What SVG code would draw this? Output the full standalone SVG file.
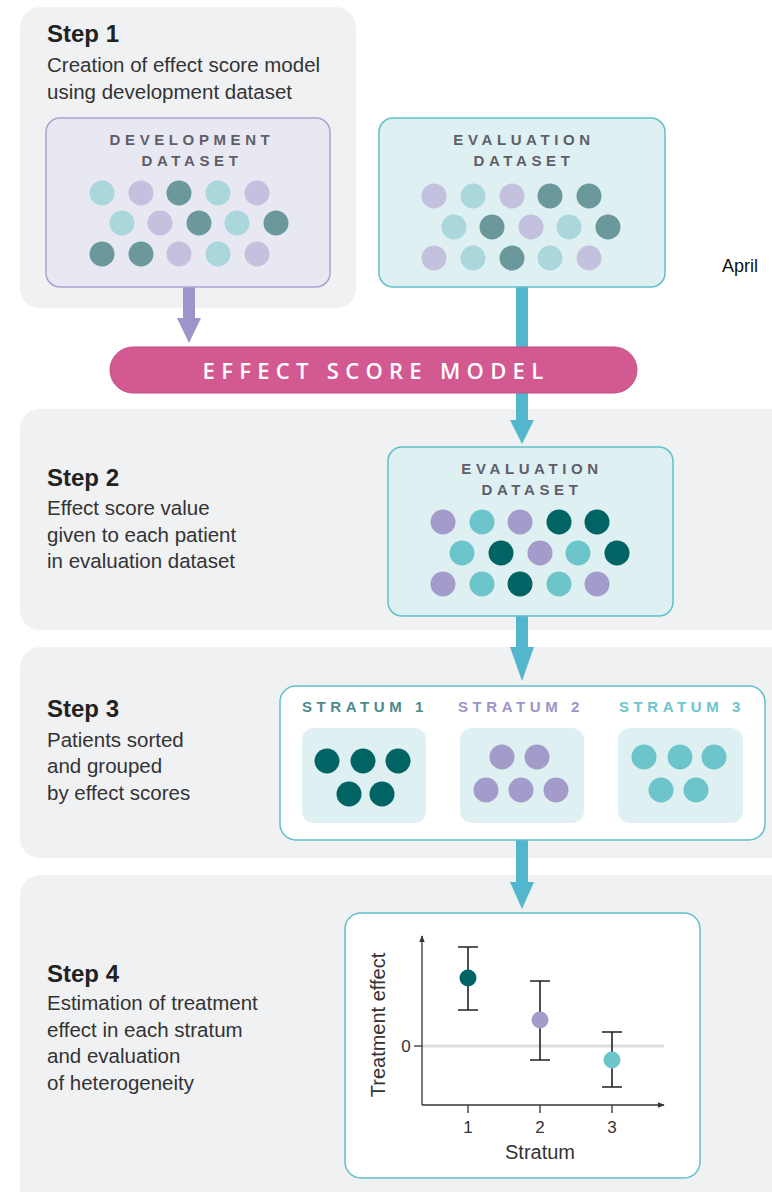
<svg xmlns="http://www.w3.org/2000/svg" width="772" height="1192" viewBox="0 0 772 1192">
  <defs>
    <style>
      .panel { fill: #f0f1f3; }
      .step { font-family: "Liberation Sans", Arial, sans-serif; font-weight: bold; font-size: 24px; fill: #222; }
      .desc { font-family: "Liberation Sans", Arial, sans-serif; font-size: 20.5px; fill: #333; }
      .dslabel { font-family: "Liberation Sans", Arial, sans-serif; font-weight: bold; font-size: 15px; letter-spacing: 4.6px; fill: #5e5e68; text-anchor: middle; }
      .strlabel { font-family: "Liberation Sans", Arial, sans-serif; font-weight: bold; font-size: 15px; letter-spacing: 4.6px; text-anchor: middle; }
      .devbox { fill: #e8e8f3; stroke: #aaa4d2; stroke-width: 1.5; }
      .evalbox { fill: #dff0f2; stroke: #62bfcc; stroke-width: 1.5; }
      .whitebox { fill: #ffffff; stroke: #62bfcc; stroke-width: 1.5; }
      .inner { fill: #dff0f2; }
      .pale-lt { fill: #a9d7dc; }
      .pale-lav { fill: #c4c1de; }
      .pale-dk { fill: #6b999b; }
      .lav { fill: #a39ccb; }
      .tl { fill: #6cc5cb; }
      .dk { fill: #006464; }
      .axis { stroke: #333; stroke-width: 1.3; fill: none; }
      .err { stroke: #222; stroke-width: 1.6; fill: none; }
      .tick { font-family: "Liberation Sans", Arial, sans-serif; font-size: 17px; fill: #333; text-anchor: middle; }
      .axtitle { font-family: "Liberation Sans", Arial, sans-serif; font-size: 20px; fill: #333; text-anchor: middle; }
    </style>
    <marker id="axhead" viewBox="0 0 10 10" refX="9" refY="5" markerWidth="7" markerHeight="7" orient="auto" markerUnits="userSpaceOnUse">
      <path d="M0,1 L10,5 L0,9 Z" fill="#333"/>
    </marker>
  </defs>

  <rect width="772" height="1192" fill="#ffffff"/>

  <!-- background panels -->
  <g id="panels">
    <rect class="panel" x="20" y="7" width="336" height="301" rx="20"/>
    <rect class="panel" x="20" y="409" width="772" height="221" rx="20"/>
    <rect class="panel" x="20" y="647" width="772" height="211" rx="20"/>
    <rect class="panel" x="20" y="875" width="772" height="340" rx="20"/>
  </g>

  <!-- connectors -->
  <g id="connectors">
    <rect x="183" y="287" width="12" height="33" fill="#9d95c9"/>
    <path d="M177,318 L201,318 L189,343 Z" fill="#9d95c9"/>
    <rect x="516" y="287" width="12" height="62" fill="#52b6cc"/>
    <rect x="516" y="392" width="12" height="30" fill="#52b6cc"/>
    <path d="M510,420 L534,420 L522,444 Z" fill="#52b6cc"/>
    <rect x="516" y="616" width="12" height="33" fill="#52b6cc"/>
    <path d="M510,647 L534,647 L522,681 Z" fill="#52b6cc"/>
    <rect x="516" y="840" width="12" height="44" fill="#52b6cc"/>
    <path d="M510,882 L534,882 L522,909 Z" fill="#52b6cc"/>
  </g>

  <!-- Step 1 -->
  <g id="step1-text">
    <text class="step" x="47" y="42">Step 1</text>
    <text class="desc" x="47" y="72">Creation of effect score model</text>
    <text class="desc" x="47" y="99">using development dataset</text>
  </g>

  <g id="development-dataset">
    <rect class="devbox" x="46" y="118" width="284" height="169" rx="14"/>
    <text class="dslabel" x="192" y="145">DEVELOPMENT</text>
    <text class="dslabel" x="192" y="166">DATASET</text>
    <circle class="pale-lt" cx="102" cy="193" r="12.5"/>
    <circle class="pale-lav" cx="141" cy="193" r="12.5"/>
    <circle class="pale-dk" cx="179" cy="193" r="12.5"/>
    <circle class="pale-lt" cx="218" cy="193" r="12.5"/>
    <circle class="pale-lav" cx="257" cy="193" r="12.5"/>
    <circle class="pale-lt" cx="122" cy="223" r="12.5"/>
    <circle class="pale-lav" cx="160" cy="223" r="12.5"/>
    <circle class="pale-dk" cx="199" cy="223" r="12.5"/>
    <circle class="pale-lt" cx="237" cy="223" r="12.5"/>
    <circle class="pale-dk" cx="276" cy="223" r="12.5"/>
    <circle class="pale-dk" cx="102" cy="254" r="12.5"/>
    <circle class="pale-dk" cx="141" cy="254" r="12.5"/>
    <circle class="pale-lav" cx="179" cy="254" r="12.5"/>
    <circle class="pale-lt" cx="218" cy="254" r="12.5"/>
    <circle class="pale-lav" cx="257" cy="254" r="12.5"/>
  </g>

  <g id="evaluation-dataset">
    <rect class="evalbox" x="379" y="118" width="286" height="169" rx="14"/>
    <text class="dslabel" x="524" y="145">EVALUATION</text>
    <text class="dslabel" x="524" y="166">DATASET</text>
    <circle class="pale-lav" cx="434" cy="196" r="12.5"/>
    <circle class="pale-lt" cx="473" cy="196" r="12.5"/>
    <circle class="pale-lav" cx="512" cy="196" r="12.5"/>
    <circle class="pale-dk" cx="550" cy="196" r="12.5"/>
    <circle class="pale-dk" cx="589" cy="196" r="12.5"/>
    <circle class="pale-lt" cx="454" cy="227" r="12.5"/>
    <circle class="pale-dk" cx="492" cy="227" r="12.5"/>
    <circle class="pale-lav" cx="531" cy="227" r="12.5"/>
    <circle class="pale-lt" cx="569" cy="227" r="12.5"/>
    <circle class="pale-dk" cx="608" cy="227" r="12.5"/>
    <circle class="pale-lav" cx="434" cy="258" r="12.5"/>
    <circle class="pale-lt" cx="473" cy="258" r="12.5"/>
    <circle class="pale-dk" cx="512" cy="258" r="12.5"/>
    <circle class="pale-lt" cx="550" cy="258" r="12.5"/>
    <circle class="pale-lav" cx="589" cy="258" r="12.5"/>
  </g>

  <text x="722" y="272" font-family="'Liberation Sans', Arial, sans-serif" font-size="18" fill="#111">April</text>

  <!-- Effect score model -->
  <g id="effect-score-model">
    <rect x="110" y="347" width="527" height="46" rx="23" fill="#d35a91" stroke="#c24f84" stroke-width="1"/>
    <text x="376" y="379" font-family="'Open Sans', 'Liberation Sans', sans-serif" font-weight="600" font-size="22" letter-spacing="6.3" fill="#ffffff" text-anchor="middle">EFFECT SCORE MODEL</text>
  </g>

  <!-- Step 2 -->
  <g id="step2-text">
    <text class="step" x="47" y="486">Step 2</text>
    <text class="desc" x="47" y="515">Effect score value</text>
    <text class="desc" x="47" y="542">given to each patient</text>
    <text class="desc" x="47" y="568">in evaluation dataset</text>
  </g>

  <g id="scored-evaluation-dataset">
    <rect class="evalbox" x="388" y="447" width="285" height="169" rx="14"/>
    <text class="dslabel" x="532" y="474">EVALUATION</text>
    <text class="dslabel" x="532" y="495">DATASET</text>
    <circle class="lav" cx="443" cy="522" r="12.5"/>
    <circle class="tl" cx="482" cy="522" r="12.5"/>
    <circle class="lav" cx="520" cy="522" r="12.5"/>
    <circle class="dk" cx="559" cy="522" r="12.5"/>
    <circle class="dk" cx="597" cy="522" r="12.5"/>
    <circle class="tl" cx="462" cy="553" r="12.5"/>
    <circle class="dk" cx="501" cy="553" r="12.5"/>
    <circle class="lav" cx="540" cy="553" r="12.5"/>
    <circle class="tl" cx="578" cy="553" r="12.5"/>
    <circle class="dk" cx="617" cy="553" r="12.5"/>
    <circle class="lav" cx="443" cy="584" r="12.5"/>
    <circle class="tl" cx="482" cy="584" r="12.5"/>
    <circle class="dk" cx="520" cy="584" r="12.5"/>
    <circle class="tl" cx="559" cy="584" r="12.5"/>
    <circle class="lav" cx="597" cy="584" r="12.5"/>
  </g>

  <!-- Step 3 -->
  <g id="step3-text">
    <text class="step" x="47" y="717">Step 3</text>
    <text class="desc" x="47" y="747">Patients sorted</text>
    <text class="desc" x="47" y="773">and grouped</text>
    <text class="desc" x="47" y="800">by effect scores</text>
  </g>

  <g id="strata">
    <rect class="whitebox" x="280" y="686" width="485" height="154" rx="16"/>
    <text class="strlabel" x="365" y="712" fill="#4d8a8d">STRATUM 1</text>
    <text class="strlabel" x="521" y="712" fill="#9d95c9">STRATUM 2</text>
    <text class="strlabel" x="682" y="712" fill="#6cc5cb">STRATUM 3</text>
    <rect class="inner" x="302" y="728" width="124" height="95" rx="12"/>
    <rect class="inner" x="460" y="728" width="124" height="95" rx="12"/>
    <rect class="inner" x="618" y="728" width="125" height="95" rx="12"/>
    <circle class="dk" cx="327" cy="761" r="12.5"/>
    <circle class="dk" cx="363" cy="761" r="12.5"/>
    <circle class="dk" cx="398" cy="761" r="12.5"/>
    <circle class="dk" cx="349" cy="794" r="12.5"/>
    <circle class="dk" cx="382" cy="794" r="12.5"/>
    <circle class="lav" cx="502" cy="757" r="12.5"/>
    <circle class="lav" cx="537" cy="757" r="12.5"/>
    <circle class="lav" cx="486" cy="790" r="12.5"/>
    <circle class="lav" cx="521" cy="790" r="12.5"/>
    <circle class="lav" cx="556" cy="790" r="12.5"/>
    <circle class="tl" cx="644" cy="757" r="12.5"/>
    <circle class="tl" cx="680" cy="757" r="12.5"/>
    <circle class="tl" cx="714" cy="757" r="12.5"/>
    <circle class="tl" cx="661" cy="790" r="12.5"/>
    <circle class="tl" cx="696" cy="790" r="12.5"/>
  </g>

  <!-- Step 4 -->
  <g id="step4-text">
    <text class="step" x="47" y="982">Step 4</text>
    <text class="desc" x="47" y="1010">Estimation of treatment</text>
    <text class="desc" x="47" y="1037">effect in each stratum</text>
    <text class="desc" x="47" y="1063">and evaluation</text>
    <text class="desc" x="47" y="1090">of heterogeneity</text>
  </g>

  <g id="effect-plot">
    <rect class="whitebox" x="345" y="913" width="355" height="265" rx="16"/>
    <line x1="422" y1="1046" x2="664" y2="1046" stroke="#dedede" stroke-width="3"/>
    <line class="axis" x1="422" y1="1105" x2="422" y2="936" marker-end="url(#axhead)"/>
    <line class="axis" x1="422" y1="1105" x2="664" y2="1105" marker-end="url(#axhead)"/>
    <line class="axis" x1="414" y1="1046" x2="422" y2="1046"/>
    <line class="axis" x1="468" y1="1105" x2="468" y2="1113"/>
    <line class="axis" x1="540" y1="1105" x2="540" y2="1113"/>
    <line class="axis" x1="612" y1="1105" x2="612" y2="1113"/>
    <text class="tick" x="406" y="1052">0</text>
    <text class="tick" x="468" y="1133">1</text>
    <text class="tick" x="540" y="1133">2</text>
    <text class="tick" x="612" y="1133">3</text>
    <text class="axtitle" x="540" y="1159">Stratum</text>
    <text class="axtitle" transform="translate(385,1025) rotate(-90)">Treatment effect</text>
    <path class="err" d="M458,947 H478 M468,947 V1010 M458,1010 H478"/>
    <path class="err" d="M530,981 H550 M540,981 V1060 M530,1060 H550"/>
    <path class="err" d="M602,1032 H622 M612,1032 V1087 M602,1087 H622"/>
    <circle class="dk" cx="468" cy="978" r="8.5"/>
    <circle class="lav" cx="540" cy="1020" r="8.5"/>
    <circle class="tl" cx="612" cy="1060" r="8.5"/>
  </g>
</svg>
